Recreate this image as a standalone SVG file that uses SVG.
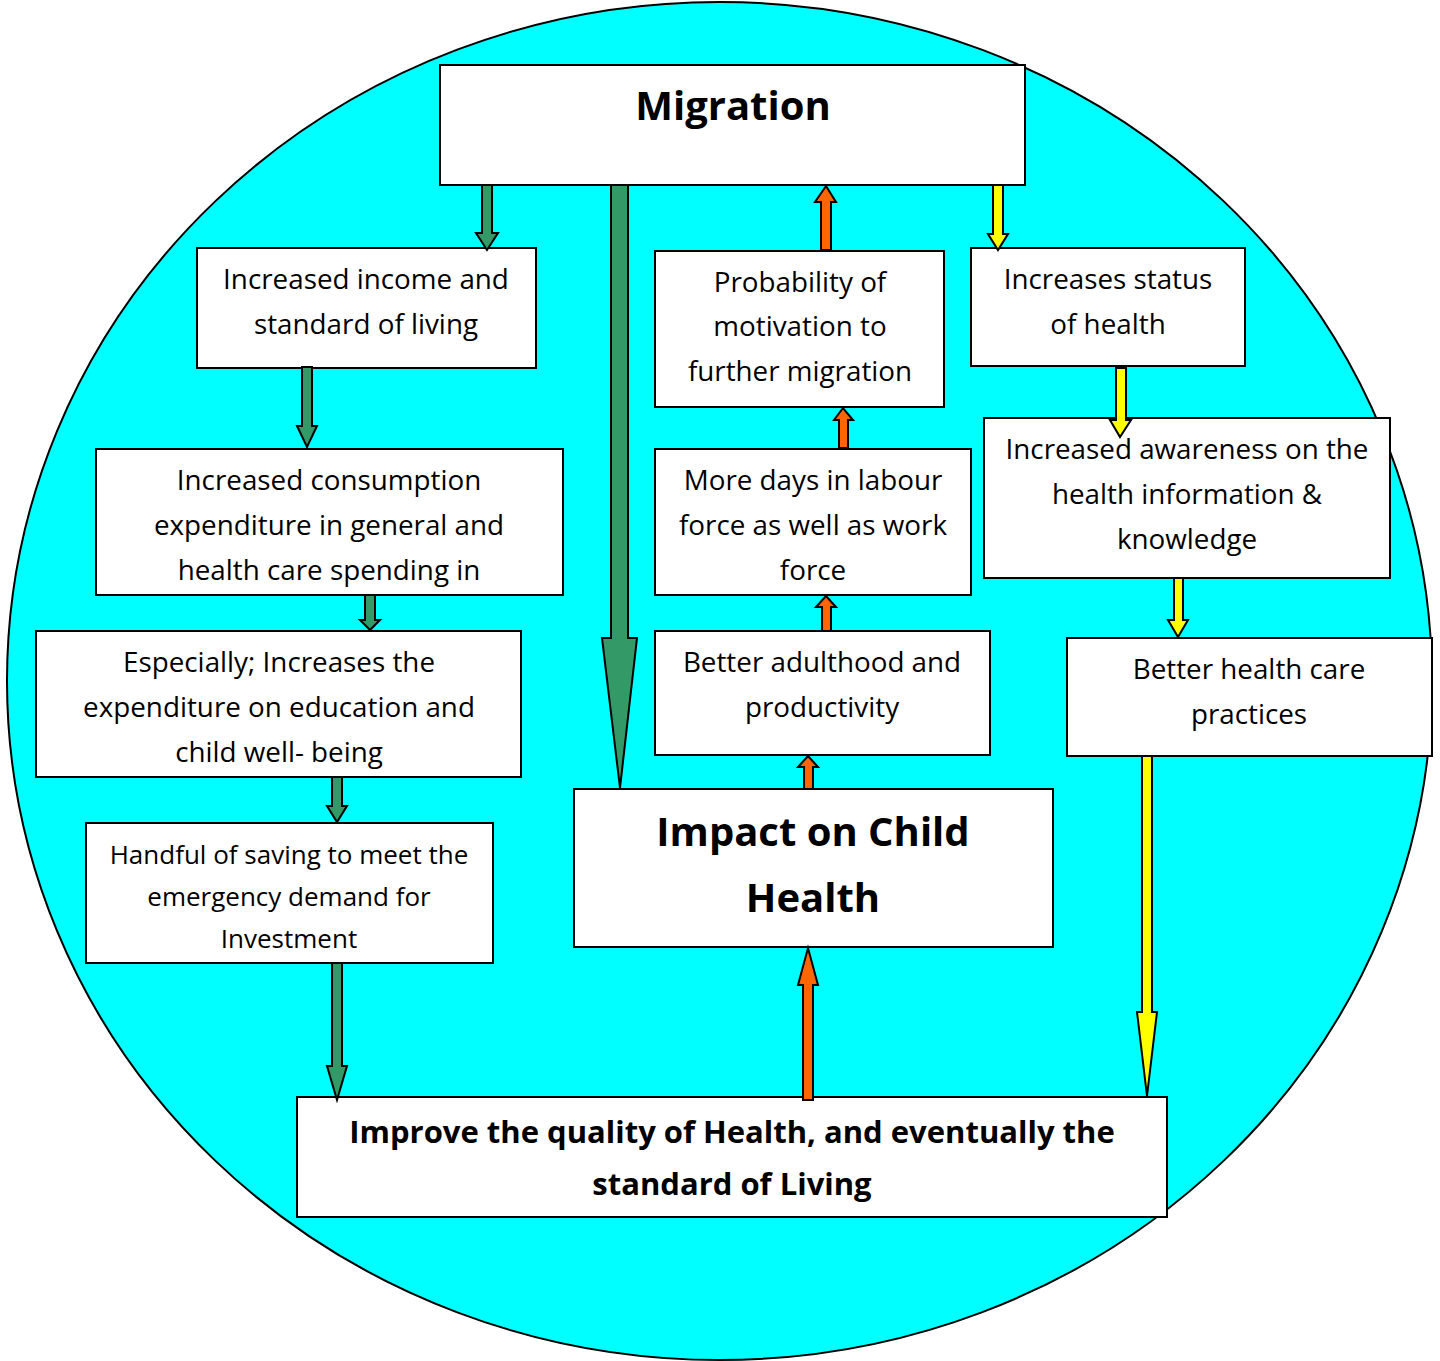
<svg xmlns="http://www.w3.org/2000/svg" width="1440" height="1361" viewBox="0 0 1440 1361">
<defs>
<style>
.bx{fill:#fff;stroke:#000;stroke-width:2}
.t{font-family:"Open Sans","Noto Sans",sans-serif;font-size:27.8px;fill:#000;text-anchor:middle}
.ts{font-size:26px}
.b{font-weight:bold}
.g{fill:#339966;stroke:#000;stroke-width:2;stroke-linejoin:miter}
.o{fill:#FF6600;stroke:#000;stroke-width:2}
.y{fill:#FFFF00;stroke:#000;stroke-width:2}
</style>
</defs>
<rect width="1440" height="1361" fill="#fff"/>
<ellipse cx="719.500" cy="681" rx="712.500" ry="679" fill="#00FFFF" stroke="#000" stroke-width="2"/>
<g id="n-migration"><rect class="bx" x="440" y="65" width="585" height="120"/><text class="t b" x="733" y="120" style="font-size:40px">Migration</text></g>
<g id="n-income"><rect class="bx" x="197" y="248" width="339" height="120"/><text class="t" x="366" y="289">Increased income and</text><text class="t" x="366" y="334">standard of living</text></g>
<g id="n-probability"><rect class="bx" x="655" y="251" width="289" height="156"/><text class="t" x="800" y="292">Probability of</text><text class="t" x="800" y="336">motivation to</text><text class="t" x="800" y="381">further migration</text></g>
<g id="n-status"><rect class="bx" x="971" y="248" width="274" height="118"/><text class="t" x="1108" y="289">Increases status</text><text class="t" x="1108" y="334">of health</text></g>
<g id="n-consumption"><rect class="bx" x="96" y="449" width="467" height="146"/><text class="t" x="329" y="490">Increased consumption</text><text class="t" x="329" y="535">expenditure in general and</text><text class="t" x="329" y="580">health care spending in</text></g>
<g id="n-labour"><rect class="bx" x="655" y="449" width="316" height="146"/><text class="t" x="813" y="490">More days in labour</text><text class="t" x="813" y="535">force as well as work</text><text class="t" x="813" y="580">force</text></g>
<g id="n-awareness"><rect class="bx" x="984" y="418" width="406" height="160"/><text class="t" x="1187" y="459">Increased awareness on the</text><text class="t" x="1187" y="504">health information &amp;</text><text class="t" x="1187" y="549">knowledge</text></g>
<g id="n-especially"><rect class="bx" x="36" y="631" width="485" height="146"/><text class="t" x="279" y="672">Especially; Increases the</text><text class="t" x="279" y="717">expenditure on education and</text><text class="t" x="279" y="762">child well- being</text></g>
<g id="n-adulthood"><rect class="bx" x="655" y="631" width="335" height="124"/><text class="t" x="822" y="672">Better adulthood and</text><text class="t" x="822" y="717">productivity</text></g>
<g id="n-practices"><rect class="bx" x="1067" y="638" width="365" height="118"/><text class="t" x="1249" y="679">Better health care</text><text class="t" x="1249" y="724">practices</text></g>
<g id="n-handful"><rect class="bx" x="86" y="823" width="407" height="140"/><text class="t ts" x="289" y="864">Handful of saving to meet the</text><text class="t ts" x="289" y="906">emergency demand for</text><text class="t ts" x="289" y="948">Investment</text></g>
<g id="n-impact"><rect class="bx" x="574" y="789" width="479" height="158"/><text class="t b" x="813" y="846" style="font-size:40px">Impact on Child</text><text class="t b" x="813" y="912" style="font-size:40px">Health</text></g>
<g id="n-improve"><rect class="bx" x="297" y="1097" width="870" height="120"/><text class="t b" x="732" y="1143" style="font-size:31px">Improve the quality of Health, and eventually the</text><text class="t b" x="732" y="1195" style="font-size:31px">standard of Living</text></g>
<g id="connectors">
<polygon class="g" points="482,185 492,185 492,233 498,233 487,250 476,233 482,233"/>
<polygon class="g" points="611,185 628,185 628,638 637,638 620,788 602,638 611,638"/>
<polygon class="o" points="821,250 831,250 831,202 836,202 826,186 815,202 821,202"/>
<polygon class="y" points="993,185 1003,185 1003,234 1008,234 998,250 988,234 993,234"/>
<polygon class="g" points="302,367 312,367 312,426 317,426 307,447 297,426 302,426"/>
<polygon class="g" points="365,595 375,595 375,620 380,620 370,630 360,620 365,620"/>
<polygon class="g" points="332,777 342,777 342,806 347,806 337,822 327,806 332,806"/>
<polygon class="g" points="332,963 342,963 342,1066 347,1066 337,1100 327,1066 332,1066"/>
<polygon class="o" points="839,448 848,448 848,420 853,420 843,408 834,420 839,420"/>
<polygon class="o" points="822,631 831,631 831,607 836,607 826,596 816,607 822,607"/>
<polygon class="o" points="804,789 813,789 813,767 818,767 808,756 798,767 804,767"/>
<polygon class="o" points="803,1100 813,1100 813,985 818,985 808,948 798,985 803,985"/>
<polygon class="y" points="1116,368 1126,368 1126,420 1131,420 1120,437 1110,420 1116,420"/>
<polygon class="y" points="1174,578 1183,578 1183,620 1188,620 1178,637 1168,620 1174,620"/>
<polygon class="y" points="1142,756 1152,756 1152,1012 1157,1012 1147,1096 1137,1012 1142,1012"/>
</g>
</svg>
